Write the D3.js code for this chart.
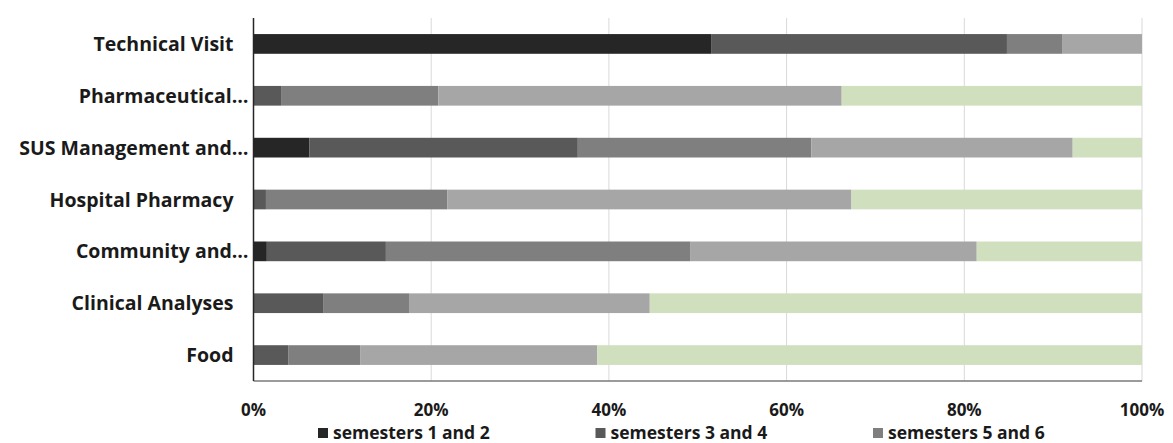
<!DOCTYPE html>
<html>
<head>
<meta charset="utf-8">
<script src="https://cdn.jsdelivr.net/npm/d3@7"></script>
<style>
  body { margin: 0; background: #fff; }
  svg { display: block; }
  text { font-family: "Open Sans", "Liberation Sans", sans-serif; font-weight: bold; fill: #1a1a1a; }
</style>
</head>
<body>
<svg></svg>
<script>
// categories, top to bottom
const categories = ["Technical Visit", "Pharmaceutical…", "SUS Management and…", "Hospital Pharmacy",
    "Community and…", "Clinical Analyses", "Food"];

const seriesNames = ["semesters 1 and 2", "semesters 3 and 4", "semesters 5 and 6", "semesters 7 and 8", "semesters 9 and 10"];

// percentage shares, one array per series (same order as categories)
const sem12 = [51.5, 0, 6.3, 0, 1.5, 0, 0];
const sem34 = [33.3, 3.1, 30.2, 1.4, 13.4, 7.9, 3.9];
const sem56 = [6.2, 17.7, 26.3, 20.4, 34.3, 9.6, 8.1];
const sem78 = [9.0, 45.4, 29.4, 45.5, 32.2, 27.1, 26.7];
const sem910 = [0, 33.8, 7.8, 32.7, 18.6, 55.4, 61.3];

const xTicks = [0, 20, 40, 60, 80, 100];
const colors = ["#262626", "#595959", "#7f7f7f", "#a6a6a6", "#d0dfbd"];

const W = 1173, H = 443;
const margin = {top: 18, right: 31, bottom: 62, left: 253.5};

const svg = d3.select("svg")
    .attr("width", W)
    .attr("height", H);

const allSeries = [sem12, sem34, sem56, sem78, sem910];
const rows = categories.map((c, i) => {
    const r = {cat: c};
    seriesNames.forEach((s, j) => r[s] = allSeries[j][i]);
    return r;
});

const x = d3.scaleLinear()
    .domain([0, 100])
    .range([margin.left, W - margin.right]);

const y = d3.scaleBand()
    .domain(categories)
    .range([margin.top, H - margin.bottom])
    .paddingInner(0.62)
    .paddingOuter(0.31);

const color = d3.scaleOrdinal().domain(seriesNames).range(colors);

// gridlines
svg.append("g")
  .selectAll("line")
  .data(xTicks.slice(1))
  .join("line")
    .attr("x1", d => x(d))
    .attr("x2", d => x(d))
    .attr("y1", margin.top)
    .attr("y2", H - margin.bottom)
    .attr("stroke", "#d9d9d9")
    .attr("stroke-width", 1);

// stacked bars
const stacked = d3.stack().keys(seriesNames)(rows);

svg.append("g")
  .selectAll("g")
  .data(stacked)
  .join("g")
    .attr("fill", d => color(d.key))
  .selectAll("rect")
  .data(d => d)
  .join("rect")
    .attr("x", d => x(d[0]))
    .attr("y", d => y(d.data.cat))
    .attr("width", d => x(d[1]) - x(d[0]))
    .attr("height", y.bandwidth());

// axis lines
svg.append("line")
    .attr("x1", x(0)).attr("x2", x(100))
    .attr("y1", H - margin.bottom).attr("y2", H - margin.bottom)
    .attr("stroke", "#7a7a7a").attr("stroke-width", 1.5);

svg.append("line")
    .attr("x1", x(0)).attr("x2", x(0))
    .attr("y1", margin.top).attr("y2", H - margin.bottom)
    .attr("stroke", "#262626").attr("stroke-width", 1.5);

// category labels
svg.append("g")
  .selectAll("text")
  .data(categories)
  .join("text")
    .attr("x", d => d.endsWith("…") ? x(0) - 5 : x(0) - 20)
    .attr("y", d => y(d) + y.bandwidth() / 2)
    .attr("dy", "0.36em")
    .attr("text-anchor", "end")
    .style("font-size", "19.5px")
    .text(d => d);

// x tick labels
svg.append("g")
  .selectAll("text")
  .data(xTicks)
  .join("text")
    .attr("x", d => x(d))
    .attr("y", 410)
    .attr("dy", "0.36em")
    .attr("text-anchor", "middle")
    .style("font-size", "17px")
    .text(d => d + "%");

// legend (only the first row fits in the picture)
const legend = svg.append("g")
  .selectAll("g")
  .data(seriesNames.slice(0, 3))
  .join("g")
    .attr("transform", (d, i) => `translate(${318 + i * 277.5},433)`);

legend.append("rect")
    .attr("x", 0)
    .attr("y", -5)
    .attr("width", 10)
    .attr("height", 10)
    .attr("fill", d => color(d));

legend.append("text")
    .attr("x", 15)
    .attr("y", 0)
    .attr("dy", "0.36em")
    .style("font-size", "17.5px")
    .text(d => d);
</script>
</body>
</html>
